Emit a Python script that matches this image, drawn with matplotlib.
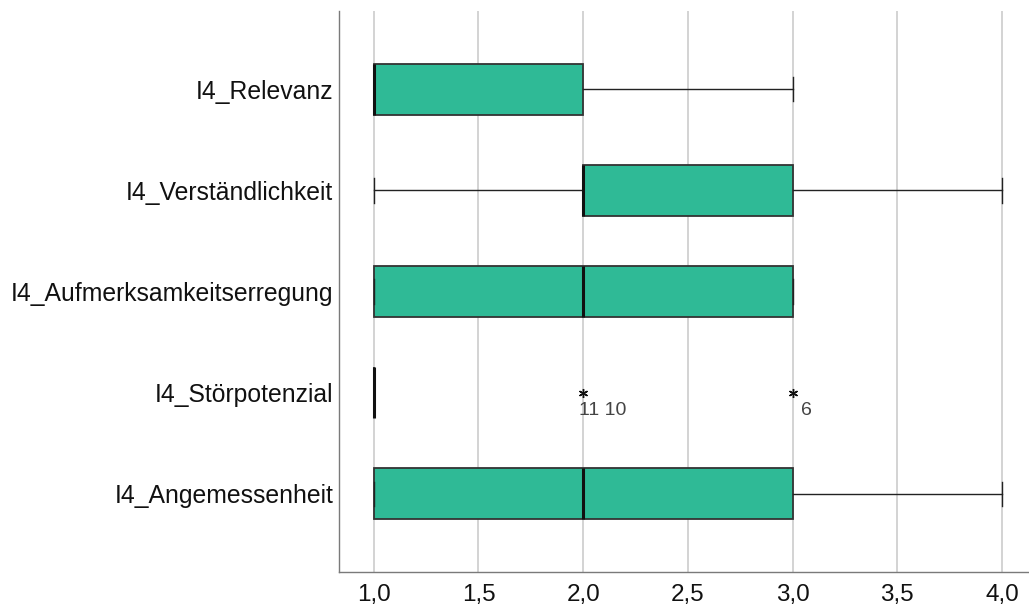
import matplotlib
matplotlib.use("Agg")
import matplotlib.pyplot as plt

plt.rcParams['font.family'] = ['Liberation Sans', 'DejaVu Sans']

# Items, top to bottom
items = ["I4_Relevanz", "I4_Verständlichkeit", "I4_Aufmerksamkeitserregung",
         "I4_Störpotenzial", "I4_Angemessenheit"]
# Five-number summaries per item
whisker_low = [1, 1, 1, 1, 1]
q1 = [1, 2, 1, 1, 1]
median = [1, 2, 2, 1, 2]
q3 = [2, 3, 3, 1, 3]
whisker_high = [3, 4, 3, 1, 4]
# Extreme values (item index, value, case labels)
extremes = [(3, 2.0, "11 10"), (3, 3.0, "6")]

xticks = [1.0, 1.5, 2.0, 2.5, 3.0, 3.5, 4.0]
xticklabels = ["1,0", "1,5", "2,0", "2,5", "3,0", "3,5", "4,0"]

fill = "#2fba96"
edge = "#333333"

W, H = 1029, 611
fig = plt.figure(figsize=(W / 100, H / 100), dpi=100)
ax = fig.add_axes([339 / W, 39 / H, (1029 - 339) / W, (572 - 11) / H])

stats = []
for i, name in enumerate(items):
    fl = [v for (k, v, _) in extremes if k == i]
    stats.append(dict(label=name, whislo=whisker_low[i], q1=q1[i], med=median[i],
                      q3=q3[i], whishi=whisker_high[i], fliers=fl))

positions = list(range(len(items)))
ax.bxp(stats, positions=positions, vert=False, widths=0.5, patch_artist=True,
       showfliers=True,
       boxprops=dict(facecolor=fill, edgecolor=edge, linewidth=1.3),
       medianprops=dict(color="#111111", linewidth=2.2, solid_capstyle="butt"),
       whiskerprops=dict(color="#222222", linewidth=1.0),
       capprops=dict(color="#222222", linewidth=1.0),
       capwidths=0.24,
       flierprops=dict(marker=(6, 2, 0), markersize=6.5, markeredgecolor="#111111",
                       markeredgewidth=1.0, linestyle="none"),
       zorder=3)

for (k, v, lab) in extremes:
    ax.annotate(lab, xy=(v, k), xytext=(-3 if lab != "6" else 6, -13),
                textcoords="offset points", ha="left", va="center",
                fontsize=14, color="#444444")

ax.set_ylim(4.775, -0.775)
ax.set_xlim(0.834, 4.129)
ax.set_yticks(positions)
ax.set_yticklabels(items, fontsize=17.8)
ax.set_xticks(xticks)
ax.set_xticklabels(xticklabels, fontsize=17.5)
ax.tick_params(axis="both", length=0, colors="#111111")
ax.tick_params(axis="y", pad=4)
ax.tick_params(axis="x", pad=9)

ax.xaxis.grid(True, color="#d0d0d0", linewidth=1.3, zorder=0)
ax.set_axisbelow(True)
for s in ("top", "right"):
    ax.spines[s].set_visible(False)
for s in ("left", "bottom"):
    ax.spines[s].set_color("#7a7a7a")
    ax.spines[s].set_linewidth(1.0)

fig.savefig("out.png", dpi=100, facecolor="white")
